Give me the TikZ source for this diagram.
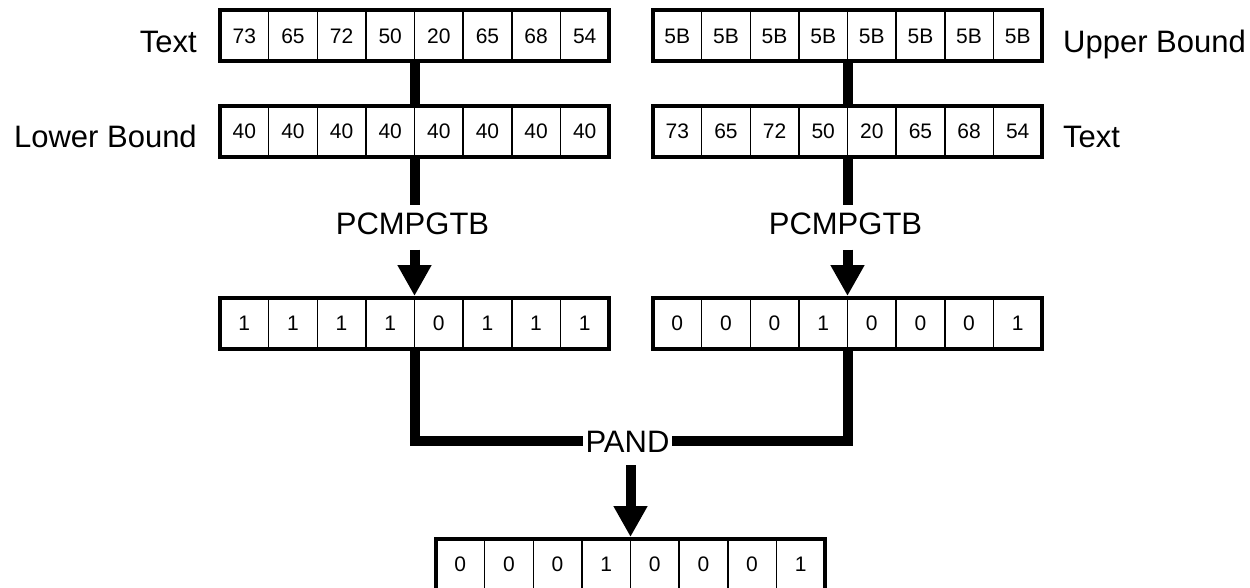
\documentclass[tikz,border=0pt]{standalone}
\usepackage{fontspec}
\setmainfont{Liberation Sans}
\usetikzlibrary{arrows.meta}
\tikzset{
  outerbox/.style={draw, line width=4pt, minimum width=389pt, minimum height=51pt, inner sep=0pt},
  cellbox/.style={draw, line width=1.5pt, minimum width=48.625pt, minimum height=51pt, inner sep=0pt, font=\fontsize{21}{21}\selectfont},
  lbl/.style={font=\fontsize{31}{31}\selectfont, inner sep=0pt},
  oplbl/.style={font=\fontsize{31}{31}\selectfont, inner sep=8pt},
  pandlbl/.style={font=\fontsize{31}{31}\selectfont, inner sep=2pt},
  link/.style={line width=10pt},
  bigarrow/.style={line width=10pt, -{Triangle[width=32pt,length=31pt]}},
}
\newcommand\regrow[4]{%
  \foreach \v [count=\i] in {#4} {
    \node[cellbox] (#1-\i) at ({#2 - 194.5 + (\i-0.5)*48.625}, #3) {\v};
  }
  \node[outerbox] (#1) at (#2,#3) {};
}
\begin{document}
\begin{tikzpicture}[x=1pt,y=-1pt]
  \fill[white] (0,0) rectangle (1250,588);
  \useasboundingbox (0,0) rectangle (1250,588);

  \regrow{LT}{414.5}{36}{73,65,72,50,20,65,68,54}
  \regrow{LB}{414.5}{131.5}{40,40,40,40,40,40,40,40}
  \regrow{RT}{847.5}{36}{5B,5B,5B,5B,5B,5B,5B,5B}
  \regrow{RB}{847.5}{131.5}{73,65,72,50,20,65,68,54}
  \regrow{RL}{414.5}{323.5}{1,1,1,1,0,1,1,1}
  \regrow{RR}{847.5}{323.5}{0,0,0,1,0,0,0,1}
  \regrow{F}{630.5}{564.5}{0,0,0,1,0,0,0,1}

  \node[lbl, anchor=base east] (tL) at (197,53) {Text};
  \node[lbl, anchor=base east] (lbL) at (197,148) {Lower Bound};
  \node[lbl, anchor=base west] (ubR) at (1063,53) {Upper Bound};
  \node[lbl, anchor=base west] (tR) at (1063,148) {Text};

  \node[oplbl, anchor=base] (pcL) at (412.5,235) {PCMPGTB};
  \node[oplbl, anchor=base] (pcR) at (845.5,235) {PCMPGTB};
  \node[pandlbl, anchor=base] (pand) at (627.5,452) {PAND};

  \draw[link] (LT.south) -- (LB.north);
  \draw[link] (RT.south) -- (RB.north);
  \draw[link] (LB.south) -- (LB.south |- pcL.north);
  \draw[link] (RB.south) -- (RB.south |- pcR.north);
  \draw[bigarrow] ([yshift=-6pt]RL.north |- pcL.south) -- (RL.north);
  \draw[bigarrow] ([yshift=-6pt]RR.north |- pcR.south) -- (RR.north);
  \draw[link] (RL.south) |- (pand.west);
  \draw[link] (RR.south) |- (pand.east);
  \draw[bigarrow] ([yshift=-11pt]F.north |- pand.south) -- (F.north);
\end{tikzpicture}
\end{document}
